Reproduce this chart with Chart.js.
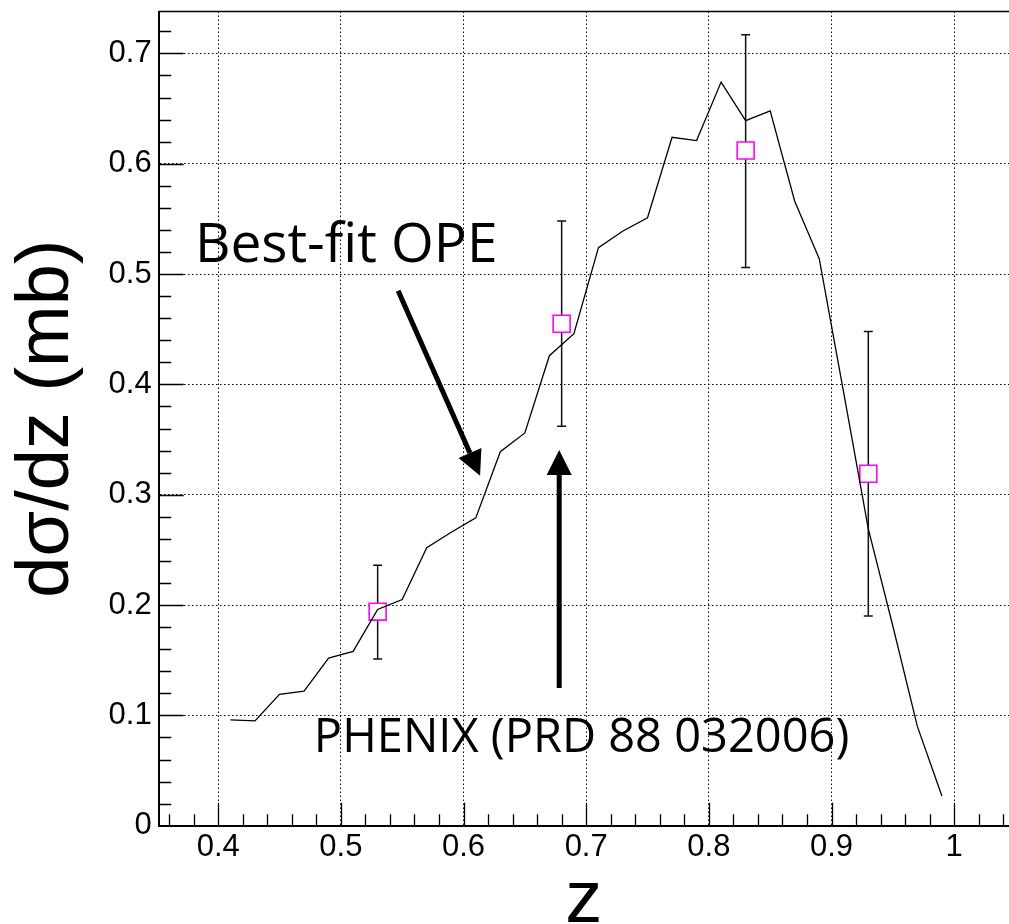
<!DOCTYPE html>
<html>
<head>
<meta charset="utf-8">
<script src="https://cdn.jsdelivr.net/npm/chart.js@4.4.0/dist/chart.umd.min.js"></script>
<style>
  html, body { margin: 0; padding: 0; background: #fff; overflow: hidden; }
  canvas { display: block; }
</style>
</head>
<body>
<canvas id="chart" width="1009" height="924"></canvas>
<script>
// Best-fit OPE curve (z, dsigma/dz in mb)
const curveZ = [0.41, 0.43, 0.45, 0.47, 0.49, 0.51, 0.53, 0.55, 0.57, 0.59,
                0.61, 0.63, 0.65, 0.67, 0.69, 0.71, 0.73, 0.75, 0.77, 0.79,
                0.81, 0.83, 0.85, 0.87, 0.89, 0.91, 0.93, 0.95, 0.97, 0.99];
const curveVal = [0.096, 0.095, 0.119, 0.122, 0.152, 0.158, 0.196, 0.205, 0.252, 0.266,
                  0.279, 0.339, 0.356, 0.426, 0.446, 0.524, 0.539, 0.551, 0.624, 0.621,
                  0.674, 0.639, 0.648, 0.566, 0.514, 0.392, 0.269, 0.181, 0.090, 0.027];

// PHENIX points with error bars
const pointZ = [0.53, 0.68, 0.83, 0.93];
const pointVal = [0.194, 0.455, 0.612, 0.319];
const pointLow = [0.151, 0.362, 0.506, 0.190];
const pointHigh = [0.236, 0.548, 0.717, 0.448];

// axis ticks
const xTickValues = [0.4, 0.5, 0.6, 0.7, 0.8, 0.9, 1.0];
const yTickValues = [0, 0.1, 0.2, 0.3, 0.4, 0.5, 0.6, 0.7];

// text labels and arrows, in data coordinates
const notes = [
    { text: 'Best-fit OPE', z: 0.381, v: 0.511, size: 55 },
    { text: 'PHENIX (PRD 88 032006)', z: 0.478, v: 0.067, size: 47 }
];
const arrows = [
    { from: [0.5467, 0.4848], to: [0.6135, 0.3171] },
    { from: [0.678, 0.1248], to: [0.678, 0.3406] }
];

const tickFont = { family: 'Liberation Sans', size: 31 };

// top frame line + inward major/minor ticks like ROOT
const frameTicks = {
    id: 'frameTicks',
    afterDraw(chart) {
        const { ctx, chartArea: a, scales: { x, y } } = chart;
        ctx.save();
        ctx.strokeStyle = '#000';
        ctx.lineWidth = 1.5;
        ctx.beginPath();
        ctx.moveTo(a.left, a.top);
        ctx.lineTo(a.right, a.top);
        ctx.stroke();

        ctx.lineWidth = 1.3;
        ctx.beginPath();
        for (let i = 18; i <= 52; i++) {
            const px = Math.round(x.getPixelForValue(i / 50)) + 0.5;
            const len = i % 5 === 0 ? 23 : 11.5;
            ctx.moveTo(px, a.bottom);
            ctx.lineTo(px, a.bottom - len);
        }
        for (let i = 1; i <= 36; i++) {
            const py = Math.round(y.getPixelForValue(i / 50)) + 0.5;
            const len = i % 5 === 0 ? 25 : 12.5;
            ctx.moveTo(a.left, py);
            ctx.lineTo(a.left + len, py);
        }
        ctx.stroke();
        ctx.restore();
    }
};

// vertical error bars with small caps, under the markers
const errorBars = {
    id: 'errorBars',
    beforeDatasetsDraw(chart) {
        const { ctx, scales: { x, y } } = chart;
        ctx.save();
        ctx.strokeStyle = '#111';
        ctx.lineWidth = 1.5;
        ctx.beginPath();
        pointZ.forEach((z, i) => {
            const px = x.getPixelForValue(z);
            const top = y.getPixelForValue(pointHigh[i]);
            const bot = y.getPixelForValue(pointLow[i]);
            ctx.moveTo(px, top);
            ctx.lineTo(px, bot);
            ctx.moveTo(px - 4.5, top);
            ctx.lineTo(px + 4.5, top);
            ctx.moveTo(px - 4.5, bot);
            ctx.lineTo(px + 4.5, bot);
        });
        ctx.stroke();
        ctx.restore();
    }
};

function drawArrow(ctx, x0, y0, x1, y1) {
    const ang = Math.atan2(y1 - y0, x1 - x0);
    const headLen = 25, headHalf = 12.5;
    const bx = x1 - headLen * Math.cos(ang);
    const by = y1 - headLen * Math.sin(ang);
    ctx.lineWidth = 5;
    ctx.beginPath();
    ctx.moveTo(x0, y0);
    ctx.lineTo(bx, by);
    ctx.stroke();
    ctx.beginPath();
    ctx.moveTo(x1, y1);
    ctx.lineTo(bx + headHalf * Math.sin(ang), by - headHalf * Math.cos(ang));
    ctx.lineTo(bx - headHalf * Math.sin(ang), by + headHalf * Math.cos(ang));
    ctx.closePath();
    ctx.fill();
}

const annotations = {
    id: 'annotations',
    afterDatasetsDraw(chart) {
        const { ctx, scales: { x, y } } = chart;
        ctx.save();
        ctx.fillStyle = '#000';
        ctx.strokeStyle = '#000';
        ctx.textBaseline = 'alphabetic';
        ctx.textAlign = 'left';
        notes.forEach(n => {
            ctx.font = n.size + 'px "Open Sans"';
            ctx.fillText(n.text, x.getPixelForValue(n.z), y.getPixelForValue(n.v));
        });
        arrows.forEach(a => {
            drawArrow(ctx,
                x.getPixelForValue(a.from[0]), y.getPixelForValue(a.from[1]),
                x.getPixelForValue(a.to[0]), y.getPixelForValue(a.to[1]));
        });
        ctx.restore();
    }
};

const ctx = document.getElementById('chart').getContext('2d');
new Chart(ctx, {
    type: 'scatter',
    data: {
        datasets: [
            {
                label: 'Best-fit OPE',
                data: curveZ.map((z, i) => ({ x: z, y: curveVal[i] })),
                showLine: true,
                borderColor: '#000',
                borderWidth: 1.3,
                pointRadius: 0,
                tension: 0,
                order: 0
            },
            {
                label: 'PHENIX',
                data: pointZ.map((z, i) => ({ x: z, y: pointVal[i] })),
                showLine: false,
                pointStyle: 'rect',
                pointRadius: 12,
                pointBorderColor: '#ff00ff',
                pointBackgroundColor: '#fff',
                pointBorderWidth: 1.6,
                order: 1
            }
        ]
    },
    options: {
        responsive: false,
        animation: false,
        layout: {
            autoPadding: false,
            padding: { top: 11.5, left: 0, right: 0, bottom: 0 }
        },
        plugins: {
            legend: { display: false },
            tooltip: { enabled: false }
        },
        scales: {
            x: {
                type: 'linear',
                min: 0.3515,
                max: 1.0447,
                afterBuildTicks: s => { s.ticks = xTickValues.map(v => ({ value: v })); },
                afterFit: s => {
                    s.height = 98.3;
                    s.paddingLeft = 0; s.paddingRight = 0;
                },
                ticks: {
                    font: tickFont,
                    color: '#000',
                    padding: 3,
                    maxRotation: 0,
                    callback: v => String(+v.toFixed(2))
                },
                grid: { color: '#000', lineWidth: 1, drawTicks: false },
                border: { display: true, color: '#000', width: 2, dash: [1.5, 2.5] },
                title: {
                    display: true,
                    text: 'z',
                    font: { family: 'Liberation Sans', size: 74, lineHeight: 0.6 },
                    color: '#000',
                    padding: { top: 0, bottom: 0 }
                }
            },
            y: {
                type: 'linear',
                min: 0,
                max: 0.738,
                afterBuildTicks: s => { s.ticks = yTickValues.map(v => ({ value: v })); },
                afterFit: s => {
                    s.width = 158.7;
                    s.paddingTop = 0; s.paddingBottom = 0;
                },
                ticks: {
                    font: tickFont,
                    color: '#000',
                    padding: 7,
                    callback: v => String(+v.toFixed(2))
                },
                grid: { color: '#000', lineWidth: 1, drawTicks: false },
                border: { display: true, color: '#000', width: 2, dash: [1.5, 2.5] },
                title: {
                    display: true,
                    text: 'dσ/dz (mb)',
                    font: { family: 'Liberation Sans', size: 74, lineHeight: 1 },
                    color: '#000',
                    padding: { top: 11, bottom: 0 }
                }
            }
        }
    },
    plugins: [errorBars, annotations, frameTicks]
});
</script>
</body>
</html>
